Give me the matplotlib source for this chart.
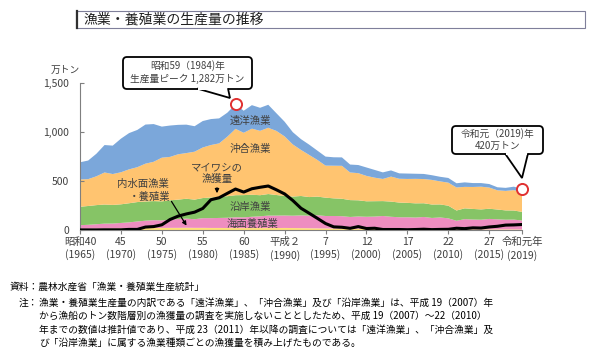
import matplotlib
matplotlib.use("Agg")
import matplotlib.pyplot as plt
from matplotlib.patches import FancyBboxPatch, Rectangle, Polygon
from matplotlib.transforms import Affine2D

plt.rcParams['font.family'] = ['Noto Sans CJK JP', 'DejaVu Sans']

years = list(range(1965, 2020))
total = [691, 709, 778, 867, 861, 932, 989, 1021, 1076, 1081,
         1055, 1066, 1073, 1075, 1059, 1112, 1132, 1139, 1197, 1282,
         1217, 1274, 1247, 1278, 1191, 1105, 998, 927, 871, 810,
         749, 742, 741, 668, 663, 638, 613, 588, 608, 578,
         576, 574, 572, 559, 543, 531, 477, 486, 479, 479,
         469, 436, 430, 442, 420]
distant = [175, 190, 230, 280, 290, 343, 370, 380, 399, 385,
           317, 320, 300, 290, 260, 270, 265, 255, 245, 250,
           225, 240, 235, 235, 180, 150, 125, 110, 105, 95,
           92, 86, 86, 81, 83, 86, 79, 67, 63, 55,
           55, 52, 52, 48, 47, 48, 43, 46, 40, 37,
           36, 31, 31, 35, 33]
offshore = [279, 274, 294, 327, 315, 327, 346, 356, 386, 401,
            446, 443, 463, 466, 489, 516, 536, 546, 607, 677,
            636, 674, 657, 676, 654, 608, 532, 470, 430, 374,
            327, 333, 336, 282, 277, 259, 240, 226, 255, 243,
            244, 250, 247, 251, 235, 235, 235, 219, 224, 232,
            216, 196, 199, 208, 202]
coastal = [188, 192, 195, 195, 190, 190, 195, 198, 196, 195,
           194, 196, 198, 203, 200, 205, 210, 215, 220, 225,
           227, 225, 215, 220, 210, 199, 195, 198, 190, 190,
           187, 180, 178, 172, 165, 158, 157, 152, 155, 150,
           147, 145, 140, 137, 133, 129, 105, 110, 108, 105,
           104, 100, 95, 93, 88]
marine_aqua = [37, 40, 45, 50, 50, 55, 60, 68, 75, 80,
               77, 85, 90, 93, 88, 99, 100, 102, 105, 110,
               109, 115, 120, 127, 127, 127, 126, 130, 128, 134,
               127, 128, 127, 120, 125, 123, 126, 133, 125, 121,
               121, 118, 124, 115, 120, 111, 87, 104, 100, 99,
               107, 103, 99, 100, 92]
inland = [12, 13, 14, 15, 16, 17, 18, 19, 20, 20,
          21, 22, 22, 23, 22, 22, 21, 21, 20, 20,
          20, 20, 20, 20, 20, 21, 20, 19, 18, 17,
          16, 15, 14, 13, 13, 12, 11, 10, 10, 9,
          9, 9, 9, 8, 8, 8, 7, 7, 7, 6,
          6, 6, 6, 6, 5]
sardine = [1, 1, 1, 2, 2, 2, 6, 6, 30, 35,
           53, 107, 142, 164, 182, 220, 309, 329, 374, 418,
           387, 421, 436, 449, 410, 368, 301, 222, 171, 119,
           66, 32, 28, 17, 35, 15, 18, 5, 5, 5,
           3, 5, 8, 4, 6, 7, 18, 14, 22, 20,
           31, 38, 50, 52, 56]

tick_years = [1965, 1970, 1975, 1980, 1985, 1990, 1995, 2000, 2005, 2010, 2015, 2019]
tick_era = ["昭和40", "45", "50", "55", "60", "平成２", "7", "12", "17", "22", "27", "令和元年"]
tick_west = ["(1965)", "(1970)", "(1975)", "(1980)", "(1985)", "(1990)", "(1995)",
             "(2000)", "(2005)", "(2010)", "(2015)", "(2019)"]
y_ticks = [0, 500, 1000, 1500]
y_labels = ["0", "500", "1,000", "1,500"]

W, H = 600, 361
fig = plt.figure(figsize=(W / 100, H / 100), dpi=100)
PX = Affine2D().scale(1 / W, -1 / H).translate(0, 1) + fig.transFigure

ax = fig.add_axes([80 / W, 1 - 230 / H, 442 / W, 147 / H])
cols = ['#FFE07A', '#EE8DC0', '#86C466', '#FFC470', '#7BA7DA']
ax.stackplot(years, inland, marine_aqua, coastal, offshore, distant,
             colors=cols, linewidth=0)
ax.plot(years, sardine, color='black', lw=2.2, solid_capstyle='round', zorder=5)

ax.set_xlim(1965, 2019)
ax.set_ylim(0, 1500)
ax.set_xticks(tick_years)
ax.set_xticklabels([f"{a}\n{b}" for a, b in zip(tick_era, tick_west)],
                   fontsize=7.5, color='#404040', linespacing=1.3)
ax.set_yticks(y_ticks)
ax.set_yticklabels(y_labels, fontsize=7.5, color='#404040')
ax.tick_params(axis='x', direction='out', length=3, color='#7f7f7f', pad=2)
ax.tick_params(axis='y', direction='in', length=3, color='#7f7f7f', pad=8)
for s in ['top', 'right']:
    ax.spines[s].set_visible(False)
for s in ['left', 'bottom']:
    ax.spines[s].set_color('#7f7f7f')
    ax.spines[s].set_linewidth(0.8)

txtc = '#404040'
def ptxt(x, y, s, fs=7.5, ha='center', c=txtc, **kw):
    fig.text(x, y, s, transform=PX, fontsize=fs, ha=ha, va='center', color=c, **kw)

# in-chart labels
ptxt(250, 121, "遠洋漁業")
ptxt(250, 149, "沖合漁業")
ptxt(250, 207, "沿岸漁業")
ptxt(253, 224, "海面養殖業")
ptxt(217, 167, "マイワシの")
ptxt(217, 179, "漁獲量")
ptxt(143, 184, "内水面漁業")
ptxt(150, 197, "・養殖業")
ax.annotate("", xy=(217, 196), xytext=(217, 185), xycoords=PX, textcoords=PX,
            arrowprops=dict(arrowstyle='-|>', color='black', lw=0.9, mutation_scale=6))
ax.annotate("", xy=(188, 228), xytext=(170, 199), xycoords=PX, textcoords=PX,
            arrowprops=dict(arrowstyle='-|>', color='black', lw=0.9, mutation_scale=6))

# unit label
ptxt(80, 70, "万トン", fs=7, ha='right')

# markers
ax.plot([1984], [1282], 'o', ms=8, mfc='white', mec='#E03030', mew=1.4, clip_on=False, zorder=6)
ax.plot([2019], [420], 'o', ms=8, mfc='white', mec='#E03030', mew=1.4, clip_on=False, zorder=6)

def callout(x0, y0, x1, y1, base_l, base_r, tip, lines, ys):
    box = FancyBboxPatch((x0, y0), x1 - x0, y1 - y0, boxstyle="round,pad=0,rounding_size=4",
                         transform=PX, fc='white', ec='black', lw=1.3)
    fig.add_artist(box)
    poly = Polygon([(base_l, y1 - 0.5), tip, (base_r, y1 - 0.5)], closed=False, transform=PX,
                   fc='white', ec='black', lw=1.3)
    fig.add_artist(poly)
    cover = Polygon([(base_l + 1, y1 - 1.5), (base_r - 1, y1 - 1.5), (base_r - 1, y1 + 0.5),
                     (base_l + 1, y1 + 0.5)], transform=PX, fc='white', ec='none')
    fig.add_artist(cover)
    for s, yy in zip(lines, ys):
        ptxt((x0 + x1) / 2, yy, s, fs=7)

callout(123, 57, 252, 89, 197, 228, (230, 98), ["昭和59（1984)年", "生産量ピーク 1,282万トン"], [66, 79])
callout(452, 126, 543, 154, 505, 528, (522, 178), ["令和元（2019)年", "420万トン"], [133.5, 146])

# title box
fig.add_artist(Rectangle((76, 11), 509, 17, transform=PX, fc='white', ec='#7f7f9a', lw=0.8))
fig.add_artist(plt.Line2D([76.5, 76.5], [11, 28], transform=PX, color='#303030', lw=1.6))
ptxt(83, 19.5, "漁業・養殖業の生産量の推移", fs=10, ha='left', c='#202020')

# footnotes
fs_n = 7
ptxt(10, 287, "資料：農林水産省「漁業・養殖業生産統計」", fs=fs_n, ha='left', c='black')
ptxt(19, 303, "注：", fs=fs_n, ha='left', c='black')
notes = ["漁業・養殖業生産量の内訳である「遠洋漁業」、「沖合漁業」及び「沿岸漁業」は、平成 19（2007）年",
         "から漁船のトン数階層別の漁獲量の調査を実施しないこととしたため、平成 19（2007）～22（2010）",
         "年までの数値は推計値であり、平成 23（2011）年以降の調査については「遠洋漁業」、「沖合漁業」及",
         "び「沿岸漁業」に属する漁業種類ごとの漁獲量を積み上げたものである。"]
for i, s in enumerate(notes):
    ptxt(39, 303 + 13.3 * i, s, fs=fs_n, ha='left', c='black')

fig.savefig("out.png", dpi=100)
